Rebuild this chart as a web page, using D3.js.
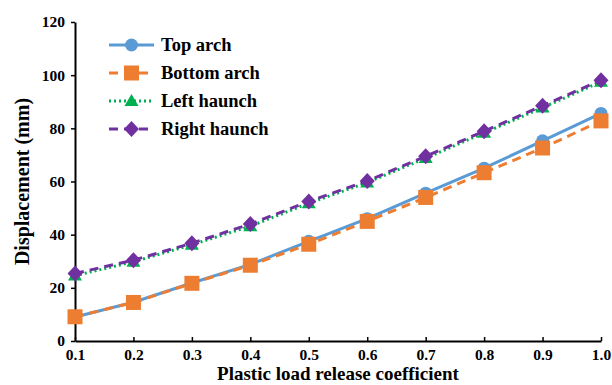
<!DOCTYPE html>
<html>
<head>
<meta charset="utf-8">
<script src="https://cdn.jsdelivr.net/npm/d3@7"></script>
<style>
  html, body { margin: 0; padding: 0; background: #fff; }
  svg { display: block; }
  text { font-family: "Liberation Serif", "Times New Roman", serif; font-weight: bold; fill: #000; }
</style>
</head>
<body>
<svg id="chart" width="612" height="385"></svg>
<script>
// Plastic load release coefficient vs. displacement at four monitoring points
const coefficients = [0.1, 0.2, 0.3, 0.4, 0.5, 0.6, 0.7, 0.8, 0.9, 1.0];
const topArch      = [9.0, 14.6, 21.8, 28.8, 37.5, 46.0, 55.6, 65.0, 75.3, 85.6];
const bottomArch   = [9.1, 14.5, 21.7, 28.5, 36.4, 45.0, 54.0, 63.3, 72.6, 82.8];
const leftHaunch   = [24.6, 29.8, 36.2, 43.2, 51.8, 59.6, 68.8, 78.3, 87.8, 97.5];
const rightHaunch  = [25.4, 30.4, 36.8, 44.0, 52.5, 60.2, 69.5, 78.9, 88.5, 98.1];
const xTicks = [0.1, 0.2, 0.3, 0.4, 0.5, 0.6, 0.7, 0.8, 0.9, 1.0];
const yTicks = [0, 20, 40, 60, 80, 100, 120];

const seriesList = [
  { name: "Top arch",     values: topArch,     color: "#5B9BD5", dash: null,  width: 3, marker: "circle" },
  { name: "Bottom arch",  values: bottomArch,  color: "#ED7D31", dash: "9,6", width: 3, marker: "square" },
  { name: "Left haunch",  values: leftHaunch,  color: "#00B050", dash: "2,3", width: 3, marker: "triangle" },
  { name: "Right haunch", values: rightHaunch, color: "#7030A0", dash: "9,6", width: 3, marker: "diamond" }
];

const svg = d3.select("#chart");
const margin = { left: 75, right: 11, top: 22, bottom: 44 };
const W = 612, H = 385;

const x = d3.scaleLinear().domain([0.1, 1.0]).range([margin.left, W - margin.right]);
const y = d3.scaleLinear().domain([0, 120]).range([H - margin.bottom, margin.top]);

// Axes
const xAxis = d3.axisBottom(x).tickValues(xTicks).tickFormat(d3.format(".1f")).tickSizeInner(-4).tickSizeOuter(0).tickPadding(8);
const yAxis = d3.axisLeft(y).tickValues(yTicks).tickFormat(d3.format("d")).tickSizeInner(4).tickSizeOuter(0).tickPadding(6);

const gx = svg.append("g").attr("transform", `translate(0,${y(0)})`).call(xAxis);
const gy = svg.append("g").attr("transform", `translate(${x(0.1)},0)`).call(yAxis);
[gx, gy].forEach(g => {
  g.select(".domain").attr("stroke", "#000").attr("stroke-width", 2);
  g.selectAll(".tick line").attr("stroke", "#000").attr("stroke-width", 1.5);
  g.selectAll(".tick text").style("font-size", "15.5px").style("font-family", "Liberation Serif, serif").style("font-weight", "bold").attr("fill", "#000");
});

// Axis titles
svg.append("text")
  .attr("x", (x(0.1) + x(1.0)) / 2).attr("y", 380)
  .attr("text-anchor", "middle").style("font-size", "19px")
  .text("Plastic load release coefficient");
svg.append("text")
  .attr("transform", `translate(29,${(y(0) + y(120)) / 2}) rotate(-90)`)
  .attr("text-anchor", "middle").style("font-size", "20px")
  .text("Displacement (mm)");

// Marker shapes
function drawMarker(g, type, cx, cy, color) {
  if (type === "circle") {
    g.append("circle").attr("cx", cx).attr("cy", cy).attr("r", 6.5).attr("fill", color);
  } else if (type === "square") {
    g.append("rect").attr("x", cx - 7.5).attr("y", cy - 7.5).attr("width", 15).attr("height", 15).attr("fill", color);
  } else if (type === "triangle") {
    g.append("path").attr("d", `M${cx},${cy - 7}L${cx + 7},${cy + 5}L${cx - 7},${cy + 5}Z`).attr("fill", color);
  } else if (type === "diamond") {
    g.append("path").attr("d", `M${cx},${cy - 8}L${cx + 7.5},${cy}L${cx},${cy + 8}L${cx - 7.5},${cy}Z`).attr("fill", color);
  }
}

const line = d3.line().x(d => x(d[0])).y(d => y(d[1]));

// Series lines, then markers
seriesList.forEach(s => {
  const pts = coefficients.map((c, i) => [c, s.values[i]]);
  const g = svg.append("g");
  g.append("path").attr("d", line(pts)).attr("fill", "none")
    .attr("stroke", s.color).attr("stroke-width", s.width)
    .attr("stroke-dasharray", s.dash);
  pts.forEach(p => drawMarker(g, s.marker, x(p[0]), y(p[1]), s.color));
});

// Legend
const legendY = [45, 73, 101, 129];
seriesList.forEach((s, i) => {
  const g = svg.append("g");
  const ly = legendY[i];
  g.append("line").attr("x1", 109).attr("x2", 154).attr("y1", ly).attr("y2", ly)
    .attr("stroke", s.color).attr("stroke-width", s.width).attr("stroke-dasharray", s.dash);
  drawMarker(g, s.marker, 131.5, ly, s.color);
  g.append("text").attr("x", 161).attr("y", ly + 6).style("font-size", "18.5px").text(s.name);
});
</script>
</body>
</html>
